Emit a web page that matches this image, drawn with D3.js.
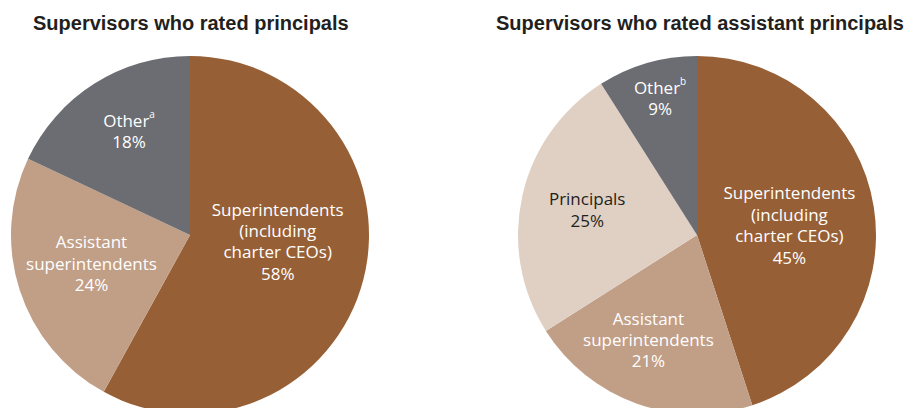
<!DOCTYPE html>
<html>
<head>
<meta charset="utf-8">
<script src="https://cdn.jsdelivr.net/npm/d3@7"></script>
<style>
  html, body { margin: 0; padding: 0; background: #fff; }
  svg { display: block; }
  .title { font-family: "Liberation Sans", Arial, sans-serif; font-weight: bold; font-size: 20px; fill: #231f20; }
  .lbl { font-family: "Open Sans", sans-serif; font-size: 17px; }
</style>
</head>
<body>
<svg id="chart" width="905" height="408"></svg>
<script>
// Supervisor shares, in percent
const principalCategories = ["Superintendents (including charter CEOs)", "Assistant superintendents", "Other"];
const principalValues = [58, 24, 18];

const apCategories = ["Superintendents (including charter CEOs)", "Assistant superintendents", "Principals", "Other"];
const apValues = [45, 21, 25, 9];

const titles = ["Supervisors who rated principals", "Supervisors who rated assistant principals"];

// Label text lines and footnote marks per slice
const principalLabelLines = [["Superintendents", "(including", "charter CEOs)"], ["Assistant", "superintendents"], ["Other"]];
const principalNotes = ["", "", "a"];
const apLabelLines = [["Superintendents", "(including", "charter CEOs)"], ["Assistant", "superintendents"], ["Principals"], ["Other"]];
const apNotes = ["", "", "", "b"];

const colorByCategory = {
  "Superintendents (including charter CEOs)": "#975f35",
  "Assistant superintendents": "#c19e86",
  "Principals": "#e0d0c4",
  "Other": "#6b6d72"
};
const textByCategory = {
  "Superintendents (including charter CEOs)": "#ffffff",
  "Assistant superintendents": "#ffffff",
  "Principals": "#231f20",
  "Other": "#ffffff"
};

const svg = d3.select("#chart");
const R = 179;
const lineH = 21.4;

const charts = [
  { title: titles[0], titleX: 33, cx: 190, cy: 235,
    cats: principalCategories, vals: principalValues, lines: principalLabelLines, notes: principalNotes,
    // label placement: radius fraction of the slice centroid plus a small nudge
    place: [{ r: 0.5, dx: 1, dy: -16 }, { r: 0.62, dx: 7, dy: -6 }, { r: 0.74, dx: 10, dy: 8 }] },
  { title: titles[1], titleX: 496, cx: 697, cy: 235,
    cats: apCategories, vals: apValues, lines: apLabelLines, notes: apNotes,
    place: [{ r: 0.5, dx: 4, dy: 4 }, { r: 0.62, dx: -11, dy: 0 }, { r: 0.6, dx: -5, dy: -2 }, { r: 0.78, dx: 2, dy: -3 }] }
];

const pie = d3.pie().sort(null).startAngle(0).endAngle(2 * Math.PI);
const arc = d3.arc().innerRadius(0).outerRadius(R);

charts.forEach(ch => {
  svg.append("text").attr("class", "title")
    .attr("x", ch.titleX).attr("y", 30)
    .text(ch.title);

  const g = svg.append("g").attr("transform", `translate(${ch.cx},${ch.cy})`);
  const arcs = pie(ch.vals);

  g.selectAll("path").data(arcs).join("path")
    .attr("d", arc)
    .attr("fill", (d, i) => colorByCategory[ch.cats[i]]);

  arcs.forEach((d, i) => {
    const p = ch.place[i];
    const mid = (d.startAngle + d.endAngle) / 2;
    const x = Math.sin(mid) * R * p.r + p.dx;
    const y = -Math.cos(mid) * R * p.r + p.dy;
    const lines = ch.lines[i].concat([d.value + "%"]);
    const top = y - (lines.length - 1) * lineH / 2;
    const t = g.append("text").attr("class", "lbl")
      .attr("text-anchor", "middle")
      .attr("fill", textByCategory[ch.cats[i]]);
    lines.forEach((ln, k) => {
      const ts = t.append("tspan")
        .attr("x", x).attr("y", top + k * lineH)
        .attr("dominant-baseline", "central")
        .text(ln);
      if (k === 0 && ch.notes[i]) {
        ts.append("tspan")
          .attr("font-size", "10px")
          .attr("dy", "-6")
          .text(ch.notes[i]);
      }
    });
  });
});
</script>
</body>
</html>
